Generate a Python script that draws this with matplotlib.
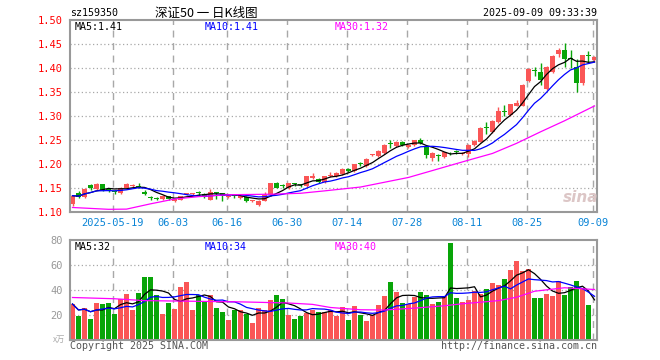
import numpy as np
import pandas as pd
import matplotlib
matplotlib.use("Agg")
from matplotlib import pyplot as plt

# daily candles, 2025-05-08 .. 2025-09-09 (88 trading days)
opens = [1.116, 1.140, 1.132, 1.157, 1.148, 1.158, 1.147, 1.142, 1.139, 1.151,
         1.155, 1.155, 1.142, 1.130, 1.129, 1.127, 1.133, 1.123, 1.126, 1.137,
         1.137, 1.140, 1.138, 1.125, 1.140, 1.139, 1.131, 1.134, 1.129, 1.132,
         1.123, 1.115, 1.123, 1.135, 1.160, 1.155, 1.149, 1.159, 1.157, 1.154,
         1.170, 1.169, 1.162, 1.174, 1.175, 1.179, 1.190, 1.185, 1.201, 1.195,
         1.218, 1.217, 1.223, 1.243, 1.238, 1.246, 1.236, 1.240, 1.249, 1.238,
         1.213, 1.218, 1.215, 1.223, 1.227, 1.221, 1.220, 1.2396, 1.2465, 1.275,
         1.2674, 1.2868, 1.310, 1.302, 1.3215, 1.3215, 1.3736, 1.394, 1.391, 1.3556,
         1.3924, 1.429, 1.4375, 1.420, 1.403, 1.3694, 1.426, 1.4167]
closes = [1.134, 1.132, 1.147, 1.149, 1.158, 1.146, 1.146, 1.141, 1.151, 1.158,
          1.156, 1.153, 1.138, 1.129, 1.128, 1.133, 1.127, 1.127, 1.133, 1.138,
          1.138, 1.139, 1.132, 1.142, 1.139, 1.134, 1.132, 1.133, 1.133, 1.123,
          1.124, 1.123, 1.135, 1.160, 1.151, 1.154, 1.160, 1.158, 1.156, 1.174,
          1.176, 1.163, 1.174, 1.178, 1.181, 1.190, 1.185, 1.200, 1.200, 1.211,
          1.219, 1.227, 1.240, 1.242, 1.246, 1.240, 1.240, 1.250, 1.243, 1.219,
          1.222, 1.217, 1.224, 1.222, 1.226, 1.222, 1.240, 1.248, 1.2757, 1.2743,
          1.2896, 1.3104, 1.309, 1.3243, 1.327, 1.3646, 1.397, 1.3937, 1.375, 1.402,
          1.425, 1.4375, 1.419, 1.419, 1.3694, 1.427, 1.425, 1.4236]
highs = [1.136, 1.143, 1.149, 1.159, 1.161, 1.159, 1.150, 1.145, 1.152, 1.160,
         1.158, 1.160, 1.145, 1.134, 1.132, 1.135, 1.134, 1.129, 1.134, 1.140,
         1.140, 1.143, 1.139, 1.147, 1.142, 1.140, 1.134, 1.136, 1.134, 1.133,
         1.125, 1.124, 1.142, 1.161, 1.162, 1.158, 1.161, 1.161, 1.159, 1.175,
         1.181, 1.171, 1.175, 1.183, 1.184, 1.192, 1.192, 1.201, 1.205, 1.212,
         1.221, 1.229, 1.241, 1.249, 1.248, 1.247, 1.242, 1.251, 1.255, 1.240,
         1.224, 1.220, 1.226, 1.226, 1.230, 1.226, 1.241, 1.250, 1.277, 1.288,
         1.291, 1.318, 1.322, 1.326, 1.333, 1.366, 1.399, 1.403, 1.410, 1.404,
         1.427, 1.441, 1.4524, 1.4375, 1.419, 1.428, 1.435, 1.425]
lows = [1.113, 1.130, 1.130, 1.146, 1.146, 1.144, 1.141, 1.137, 1.137, 1.149,
        1.153, 1.150, 1.135, 1.126, 1.125, 1.125, 1.125, 1.121, 1.124, 1.135,
        1.135, 1.134, 1.130, 1.124, 1.127, 1.123, 1.129, 1.130, 1.127, 1.121,
        1.121, 1.113, 1.122, 1.134, 1.150, 1.150, 1.148, 1.154, 1.153, 1.153,
        1.169, 1.160, 1.160, 1.172, 1.173, 1.177, 1.183, 1.183, 1.195, 1.194,
        1.216, 1.215, 1.221, 1.234, 1.236, 1.238, 1.234, 1.238, 1.241, 1.212,
        1.207, 1.206, 1.213, 1.218, 1.221, 1.218, 1.215, 1.238, 1.245, 1.2625,
        1.265, 1.285, 1.300, 1.300, 1.320, 1.320, 1.370, 1.383, 1.364, 1.354,
        1.390, 1.4222, 1.402, 1.401, 1.350, 1.364, 1.410, 1.415]
volumes = [28.8, 19.3, 25.8, 16.6, 29.6, 28.8, 29.6, 20.7, 32.8, 37.2,
           24.2, 37.7, 50.7, 50.7, 36.0, 20.7, 30.0, 25.0, 42.5, 46.6,
           24.0, 36.0, 31.0, 36.0, 26.0, 22.6, 16.4, 24.0, 24.0, 20.7,
           13.7, 25.5, 24.0, 32.0, 36.0, 32.8, 20.0, 16.6, 19.0, 21.5,
           24.0, 22.6, 22.6, 24.2, 19.3, 26.4, 16.1, 27.2, 19.9, 15.0,
           20.1, 28.0, 35.3, 46.6, 38.5, 29.6, 29.0, 34.2, 38.5, 36.0,
           29.0, 30.4, 35.3, 77.4, 33.6, 30.4, 32.0, 39.6, 36.9, 40.9,
           46.0, 44.2, 49.0, 56.4, 63.6, 55.3, 56.6, 33.6, 33.6, 36.9,
           35.3, 47.4, 36.0, 42.6, 47.4, 41.8, 28.0, 0.7]

# 30-day averages (they reach back before the window)
ma30_idx = [0, 6, 9, 13, 17, 21, 26, 33, 38, 42, 48, 52, 56, 61, 66, 70, 74, 78, 82, 87]
ma30_val = [1.1094, 1.1056, 1.106, 1.117, 1.127, 1.132, 1.136, 1.137, 1.139, 1.144,
            1.152, 1.162, 1.172, 1.190, 1.208, 1.222, 1.243, 1.267, 1.290, 1.321]
vma30_idx = [0, 7, 12, 20, 28, 36, 40, 43, 48, 52, 57, 62, 65, 71, 74, 77, 82, 87]
vma30_val = [34, 33, 31.5, 31, 30.5, 29.6, 28.5, 26, 24.2, 24, 25.5, 27.4, 29, 31.5,
             34.2, 39, 41.8, 40.4]

tick_idx = [7, 17, 26, 36, 46, 56, 66, 76, 87]
tick_lab = ["2025-05-19", "06-03", "06-16", "06-30", "07-14", "07-28", "08-11", "08-25", "09-09"]
price_ticks = [1.10, 1.15, 1.20, 1.25, 1.30, 1.35, 1.40, 1.45, 1.50]
vol_ticks = [20, 40, 60, 80]
price_labels = ["MA5:1.41", "MA10:1.41", "MA30:1.32"]
vol_labels = ["MA5:32", "MA10:34", "MA30:40"]

RED = "#fa5656"
GREEN = "#08a508"
GRID = "#a8a8a8"
EDGE = "#999999"
MONO = "DejaVu Sans Mono"
MA_COLORS = ["black", "#0000ff", "#ff00ff"]

o = np.array(opens); c = np.array(closes)
h = np.array(highs); l = np.array(lows)
v = np.array(volumes)
x = np.arange(len(c))
up = c >= o
cols = np.where(up, RED, GREEN)

ma5 = pd.Series(c).rolling(5, min_periods=1).mean()
ma10 = pd.Series(c).rolling(10, min_periods=1).mean()
vma5 = pd.Series(v).rolling(5, min_periods=1).mean()
vma10 = pd.Series(v).rolling(10, min_periods=1).mean()

W, H = 660, 360
def fx(px): return px / W
def fy(py): return 1 - py / H

fig = plt.figure(figsize=(6.6, 3.6), dpi=100)
ax = fig.add_axes([fx(70), fy(212), 527 / W, 192 / H])
axv = fig.add_axes([fx(70), fy(340), 527 / W, 100 / H])

xlim = (-2.5 / 6, (597 - 72.5) / 6)
gx = [i - 0.33 for i in tick_idx]

for a in (ax, axv):
    a.set_xlim(*xlim)
    for s in a.spines.values():
        s.set_color(EDGE)
        s.set_linewidth(1.5)
    for g in gx:
        a.axvline(g, color=GRID, lw=1, dashes=(5, 4), zorder=0)
    a.tick_params(length=0)

# sina watermark, behind the candles
fig.text(fx(581), fy(197), "sina", color="#dcc6c6", fontsize=11, style="italic",
         weight="bold", ha="center", va="center", zorder=0)
ax.patch.set_alpha(0)

# price panel
ax.set_ylim(1.10, 1.50)
for p in price_ticks[1:-1]:
    ax.axhline(p, color=GRID, lw=0.9, dashes=(1, 2), zorder=0)
ax.vlines(x, l, h, colors=cols, lw=1, zorder=2)
body = np.maximum(np.abs(c - o), 0.0018)
ax.bar(x, body, bottom=np.minimum(o, c), width=0.83, color=cols, linewidth=0, zorder=2)
ax.plot(x, ma5, color=MA_COLORS[0], lw=0.9, zorder=3)
ax.plot(x, ma10, color=MA_COLORS[1], lw=0.9, zorder=3)
ax.plot(ma30_idx, ma30_val, color=MA_COLORS[2], lw=0.9, zorder=3)
ax.set_yticks(price_ticks)
ax.set_yticklabels(["%.2f" % p for p in price_ticks], color="red", family=MONO, fontsize=7.5)
ax.tick_params(axis="y", pad=5)
ax.set_xticks(gx)
ax.set_xticklabels(tick_lab, color="#0a84d6", family=MONO, fontsize=7.5)
ax.tick_params(axis="x", pad=4)

# volume panel
axv.set_ylim(0, 80)
for p in vol_ticks[:-1]:
    axv.axhline(p, color=GRID, lw=0.9, dashes=(1, 2), zorder=0)
axv.bar(x, v, width=0.83, color=cols, linewidth=0, zorder=2)
axv.plot(x, vma5, color=MA_COLORS[0], lw=0.9, zorder=3)
axv.plot(x, vma10, color=MA_COLORS[1], lw=0.9, zorder=3)
axv.plot(vma30_idx, vma30_val, color=MA_COLORS[2], lw=0.9, zorder=3)
axv.set_yticks(vol_ticks)
axv.set_yticklabels([str(t) for t in vol_ticks], color="#999999", family=MONO, fontsize=7.5)
axv.tick_params(axis="y", pad=5)
axv.set_xticks([])

# texts
fig.text(fx(70), fy(13), "sz159350", family=MONO, fontsize=7.2, va="center")
fig.text(fx(206), fy(13), "深证50 一 日K线图", family=["Noto Sans CJK SC", "DejaVu Sans"],
         fontsize=9, ha="center", va="center")
fig.text(fx(597), fy(13), "2025-09-09 09:33:39", family=MONO, fontsize=7.2,
         ha="right", va="center")
for lab, px, col in zip(price_labels, [75, 205, 335], MA_COLORS):
    fig.text(fx(px), fy(26.5), lab, family=MONO, fontsize=7.2, va="center", color=col)
for lab, px, col in zip(vol_labels, [75, 205, 335], MA_COLORS):
    fig.text(fx(px), fy(246.5), lab, family=MONO, fontsize=7.2, va="center", color=col)
fig.text(fx(65), fy(339), "x万", family=["Noto Sans CJK SC", "DejaVu Sans"], fontsize=6,
         ha="right", va="center", color="#aaaaaa")
fig.text(fx(70), fy(346), "Copyright 2025 SINA.COM", family=MONO, fontsize=7.2,
         va="center", color="#555555")
fig.text(fx(597), fy(346), "http://finance.sina.com.cn", family=MONO, fontsize=7.2,
         ha="right", va="center", color="#555555")

fig.savefig("out.png", dpi=100)
